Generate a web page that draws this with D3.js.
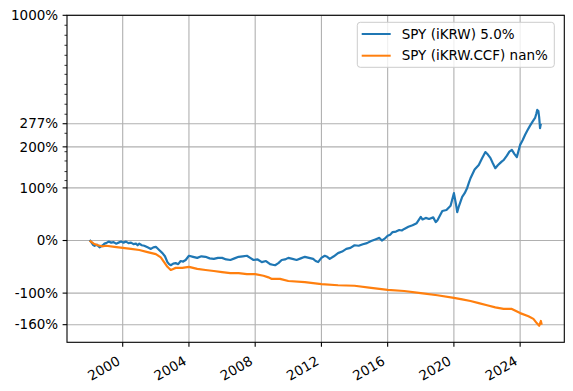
<!DOCTYPE html>
<html><head><meta charset="utf-8">
<script src="https://cdn.jsdelivr.net/npm/d3@7"></script>
<style>
body{margin:0;background:#fff}
svg{display:block}
text{font-family:"DejaVu Sans",sans-serif;fill:#000}
</style>
</head><body><svg id="c" width="573" height="391"></svg>
<script>
// ---------------- data ----------------
const seriesNames = ["SPY (iKRW) 5.0%", "SPY (iKRW.CCF) nan%"];
const seriesColors = ["#1f77b4", "#ff7f0e"];
const blueYears = [1998.0,1998.1,1998.2,1998.3,1998.45,1998.6,1998.7,1998.8,1998.9,1999.0,1999.15,1999.3,1999.45,1999.6,1999.75,1999.9,2000.05,2000.2,2000.35,2000.5,2000.65,2000.8,2000.9,2001.0,2001.15,2001.3,2001.5,2001.7,2001.85,2002.0,2002.2,2002.4,2002.55,2002.7,2002.8,2002.9,2003.05,2003.2,2003.35,2003.5,2003.65,2003.8,2004.0,2004.25,2004.5,2004.75,2005.0,2005.25,2005.5,2005.75,2006.0,2006.25,2006.5,2006.75,2007.0,2007.25,2007.5,2007.7,2007.9,2008.15,2008.4,2008.65,2008.9,2009.05,2009.2,2009.4,2009.6,2009.8,2010.0,2010.25,2010.5,2010.75,2011.0,2011.25,2011.5,2011.65,2011.8,2012.0,2012.2,2012.35,2012.5,2012.75,2013.0,2013.25,2013.5,2013.75,2014.0,2014.25,2014.5,2014.75,2015.0,2015.25,2015.5,2015.65,2015.8,2016.0,2016.15,2016.3,2016.5,2016.7,2016.85,2017.0,2017.25,2017.5,2017.75,2018.0,2018.1,2018.3,2018.5,2018.75,2018.9,2019.0,2019.3,2019.55,2019.8,2020.0,2020.12,2020.2,2020.3,2020.5,2020.65,2020.8,2020.9,2021.0,2021.25,2021.5,2021.7,2021.9,2022.05,2022.2,2022.35,2022.5,2022.65,2022.8,2022.9,2023.0,2023.2,2023.35,2023.5,2023.65,2023.8,2023.9,2024.0,2024.15,2024.3,2024.45,2024.6,2024.75,2024.9,2024.97,2025.03,2025.1,2025.15,2025.2,2025.25,2025.3];
const blueValues = [1,-3,-8,-10,-8,-13,-11,-9,-6,-5,-2,-4,-3,-6,-4,-2,-4,-2,-5,-4,-7,-6,-9,-6,-9,-10,-13,-16,-13,-12,-18,-24,-30,-41,-45,-47,-44,-43,-45,-39,-40,-37,-29,-31,-33,-30,-31,-34,-35,-33,-33,-36,-37,-34,-31,-30,-29,-33,-37,-36,-41,-39,-45,-46,-47,-43,-37,-36,-33,-35,-37,-34,-31,-33,-35,-39,-41,-33,-29,-31,-35,-30,-24,-21,-16,-14,-9,-10,-7,-5,-1,2,5,0,3,9,11,16,17,20,19,22,26,29,33,45,40,43,41,44,35,38,56,58,66,90,70,54,65,83,90,100,110,120,140,151,168,185,178,169,155,143,150,156,160,163,175,186,191,180,171,188,206,220,238,254,270,285,299,315,332,327,300,261,277];
const orangeYears = [1998.0,1998.25,1998.5,1998.75,1999.0,1999.5,2000.0,2000.5,2001.0,2001.5,2002.0,2002.3,2002.5,2002.7,2002.9,2003.05,2003.2,2003.6,2004.0,2004.5,2005.0,2005.5,2006.0,2006.5,2007.0,2007.5,2008.0,2008.5,2008.8,2009.0,2009.5,2010.0,2011.0,2012.0,2013.0,2014.0,2015.0,2016.0,2017.0,2018.0,2019.0,2020.0,2020.5,2021.0,2021.5,2022.0,2022.5,2023.0,2023.5,2024.0,2024.5,2024.8,2025.0,2025.15,2025.25,2025.3];
const orangeValues = [0,-6,-9,-11,-10,-12,-14,-16,-18,-22,-26,-32,-41,-50,-56,-54,-52,-52,-50,-54,-56,-58,-60,-62,-62,-64,-64,-67,-70,-73,-73,-77,-79,-83,-85,-86,-90,-94,-96,-100,-104,-109,-112,-115,-119,-123,-127,-130,-130,-138,-144,-149,-157,-162,-153,-160];
const yMajorTicks = [1000, 277, 200, 100, 0, -100, -160];
const yMinorTicks = [897,803,718,641,571,514,456,404,357,314,243,186,161,135,115];
const xTickYears = [2000, 2004, 2008, 2012, 2016, 2020, 2024];
const yDomain = [-193.5, 1000];

// ---------------- helpers ----------------
function yearToDate(y){
  const yr = Math.floor(y);
  const start = new Date(yr,0,1), end = new Date(yr+1,0,1);
  return new Date(start.getTime() + (y-yr)*(end-start));
}
// axis transform: linear up to +100%, logarithmic in wealth above
const K = 4.432;
function tf(pct){ const r = pct/100; return r <= 1 ? r : 1 + K*Math.log10((1+r)/2); }

const m = {l:67, r:564.3, t:15.3, b:342.3};
const svg = d3.select("#c");

const allDates = blueYears.concat(orangeYears).map(yearToDate);
const ext = d3.extent(allDates);
const span = ext[1]-ext[0];
const x = d3.scaleTime().domain([new Date(+ext[0]-0.05*span), new Date(+ext[1]+0.05*span)]).range([m.l, m.r]);
const yLin = d3.scaleLinear().domain(yDomain.map(tf)).range([m.b, m.t]);
const y = v => yLin(tf(v));

// grid
const g = svg.append("g");
g.selectAll(".vg").data(xTickYears).join("line")
  .attr("x1", d=>x(new Date(d,0,1))).attr("x2", d=>x(new Date(d,0,1)))
  .attr("y1", m.t).attr("y2", m.b).attr("stroke","#b0b0b0").attr("stroke-width",1.1);
g.selectAll(".hg").data(yMajorTicks).join("line")
  .attr("x1", m.l).attr("x2", m.r).attr("y1", d=>y(d)).attr("y2", d=>y(d))
  .attr("stroke","#b0b0b0").attr("stroke-width",1.1);

// lines
const lineGen = d3.line().x(d=>x(yearToDate(d[0]))).y(d=>y(d[1]));
const seriesData = [d3.zip(blueYears, blueValues), d3.zip(orangeYears, orangeValues)];
svg.append("g").selectAll("path").data(seriesData).join("path")
  .attr("d", lineGen).attr("fill","none")
  .attr("stroke", (d,i)=>seriesColors[i]).attr("stroke-width",2.2).attr("stroke-linejoin","round");

// spines
svg.append("rect").attr("x",m.l).attr("y",m.t).attr("width",m.r-m.l).attr("height",m.b-m.t)
  .attr("fill","none").attr("stroke","#000").attr("stroke-width",1.1);

// y ticks
const fs = 13.5;
const yt = svg.append("g");
yt.selectAll("line.maj").data(yMajorTicks).join("line")
  .attr("x1", m.l-4.4).attr("x2", m.l).attr("y1", d=>y(d)).attr("y2", d=>y(d))
  .attr("stroke","#000").attr("stroke-width",1.1);
yt.selectAll("line.min").data(yMinorTicks).join("line").attr("class","min")
  .attr("x1", m.l-2.5).attr("x2", m.l).attr("y1", d=>y(d)).attr("y2", d=>y(d))
  .attr("stroke","#000").attr("stroke-width",0.8);
yt.selectAll("text").data(yMajorTicks).join("text")
  .attr("x", m.l-8.8).attr("y", d=>y(d)).attr("dy","0.35em")
  .attr("text-anchor","end").attr("font-size",fs).text(d=>d+"%");

// x ticks
const xt = svg.append("g");
xt.selectAll("line").data(xTickYears).join("line")
  .attr("x1", d=>x(new Date(d,0,1))).attr("x2", d=>x(new Date(d,0,1)))
  .attr("y1", m.b).attr("y2", m.b+4.4).attr("stroke","#000").attr("stroke-width",1.1);
xt.selectAll("text").data(xTickYears).join("text")
  .attr("transform", d=>`translate(${x(new Date(d,0,1))-1.6},${m.b+21.5}) rotate(-30)`)
  .attr("text-anchor","end").attr("font-size",fs).text(d=>d);

// legend
const lg = svg.append("g");
lg.append("rect").attr("x",357.3).attr("y",22.3).attr("width",197).attr("height",45)
  .attr("rx",3).attr("fill","#fff").attr("fill-opacity",0.8).attr("stroke","#cccccc").attr("stroke-width",1);
seriesNames.forEach((n,i)=>{
  const ly = 34 + i*21.7;
  lg.append("line").attr("x1",361.7).attr("x2",390.7).attr("y1",ly).attr("y2",ly)
    .attr("stroke",seriesColors[i]).attr("stroke-width",2);
  lg.append("text").attr("x",401.7).attr("y",ly).attr("dy","0.35em").attr("font-size",fs).text(n);
});
</script>
</body></html>
